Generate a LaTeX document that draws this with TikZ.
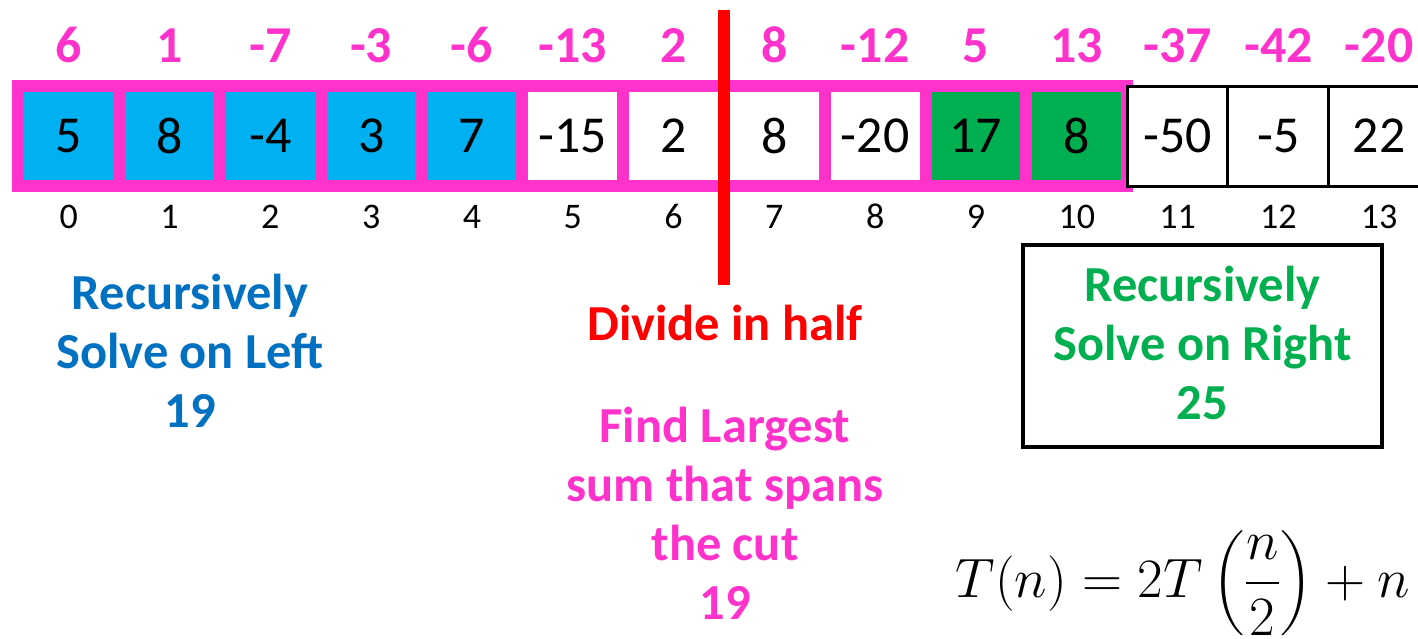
\RequirePackage{fix-cm}
\documentclass[tikz,border=0pt]{standalone}
\usepackage{amsmath}
\usepackage{fontspec}
\setmainfont{Carlito}
\usepackage{tikz}
\usetikzlibrary{positioning}
\usepackage{xcolor}
\definecolor{spanpink}{HTML}{FF33CC}
\definecolor{leftblue}{HTML}{00B0F0}
\definecolor{rightgreen}{HTML}{00B050}
\definecolor{textblue}{HTML}{0070C0}
\definecolor{cutred}{HTML}{FF0000}

\begin{document}
\begin{tikzpicture}[
  x=0.2mm, y=-0.2mm,
  cell/.style={rectangle, minimum width=2.016cm, minimum height=2cm,
               inner sep=0pt, outer sep=0pt, font=\fontsize{29.5}{32}\selectfont},
  lcell/.style={cell, draw=spanpink, fill=leftblue, line width=6.8pt},
  mcell/.style={cell, draw=spanpink, fill=white, line width=6.8pt},
  rcell/.style={cell, draw=spanpink, fill=rightgreen, line width=6.8pt},
  ocell/.style={cell, draw=black, fill=white, line width=1.7pt},
  sumlbl/.style={font=\fontsize{29.5}{32}\selectfont\bfseries, text=spanpink,
                 inner sep=0pt, text depth=0pt},
  idxlbl/.style={font=\fontsize{20.5}{24}\selectfont, inner sep=0pt,
                 text height=0.46cm, text depth=0pt},
  note/.style={font=\fontsize{28.7}{33.5}\selectfont\bfseries, align=center},
  rbox/.style={rectangle, draw=black, line width=2.8pt, fill=white,
               minimum width=7.18cm, minimum height=4.04cm},
  cutline/.style={draw=cutred, line width=6.8pt}
]
\useasboundingbox (0,0) rectangle (1418,638);

% ---------- Array ----------
\node[lcell] (c0) at (68.75,136) {5};
\node[lcell, right=0pt of c0] (c1) {8};
\node[lcell, right=0pt of c1] (c2) {-4};
\node[lcell, right=0pt of c2] (c3) {3};
\node[lcell, right=0pt of c3] (c4) {7};
\node[mcell, right=0pt of c4] (c5) {-15};
\node[mcell, right=0pt of c5] (c6) {2};
\node[mcell, right=0pt of c6] (c7) {8};
\node[mcell, right=0pt of c7] (c8) {-20};
\node[rcell, right=0pt of c8] (c9) {17};
\node[rcell, right=0pt of c9] (c10) {8};
\node[ocell, right=0pt of c10] (c11) {-50};
\node[ocell, right=0pt of c11] (c12) {-5};
\node[ocell, right=0pt of c12] (c13) {22};

% ---------- Sums across the cut ----------
\node[sumlbl, above=0.46cm of c0] (s0) {6};
\node[sumlbl, above=0.46cm of c1] (s1) {1};
\node[sumlbl, above=0.46cm of c2] (s2) {-7};
\node[sumlbl, above=0.46cm of c3] (s3) {-3};
\node[sumlbl, above=0.46cm of c4] (s4) {-6};
\node[sumlbl, above=0.46cm of c5] (s5) {-13};
\node[sumlbl, above=0.46cm of c6] (s6) {2};
\node[sumlbl, above=0.46cm of c7] (s7) {8};
\node[sumlbl, above=0.46cm of c8] (s8) {-12};
\node[sumlbl, above=0.46cm of c9] (s9) {5};
\node[sumlbl, above=0.46cm of c10] (s10) {13};
\node[sumlbl, above=0.46cm of c11] (s11) {-37};
\node[sumlbl, above=0.46cm of c12] (s12) {-42};
\node[sumlbl, above=0.46cm of c13] (s13) {-20};

% ---------- Indices ----------
\node[idxlbl, below=0.38cm of c0] (i0) {0};
\node[idxlbl, below=0.38cm of c1] (i1) {1};
\node[idxlbl, below=0.38cm of c2] (i2) {2};
\node[idxlbl, below=0.38cm of c3] (i3) {3};
\node[idxlbl, below=0.38cm of c4] (i4) {4};
\node[idxlbl, below=0.38cm of c5] (i5) {5};
\node[idxlbl, below=0.38cm of c6] (i6) {6};
\node[idxlbl, below=0.38cm of c7] (i7) {7};
\node[idxlbl, below=0.38cm of c8] (i8) {8};
\node[idxlbl, below=0.38cm of c9] (i9) {9};
\node[idxlbl, below=0.38cm of c10] (i10) {10};
\node[idxlbl, below=0.38cm of c11] (i11) {11};
\node[idxlbl, below=0.38cm of c12] (i12) {12};
\node[idxlbl, below=0.38cm of c13] (i13) {13};

% ---------- The cut ----------
\coordinate (cuttop) at (724,10);
\coordinate (cutbot) at (724,285);
\draw[cutline] (cuttop) -- (cutbot);

% ---------- Notes ----------
\node[note, text=textblue] (left) at (190,351)
  {Recursively\\Solve on Left\\19};
\node[note, text=cutred, anchor=base] (divide) at (725,340) {Divide in half};
\node[note, text=spanpink] (span) at (725,513)
  {Find Largest\\sum that spans\\the cut\\19};
\node[rbox] (right) at (1202.5,346) {};
\node[note, text=rightgreen] (rightlbl) at ([yshift=0.06cm]right.center)
  {Recursively\\Solve on Right\\25};

% ---------- Recurrence ----------
\node[font=\fontsize{31.6}{38}\selectfont, anchor=base] (rec) at (1183,597)
  {$T(n) = 2T\left(\dfrac{n}{2}\right) + n$};

\end{tikzpicture}
\end{document}
